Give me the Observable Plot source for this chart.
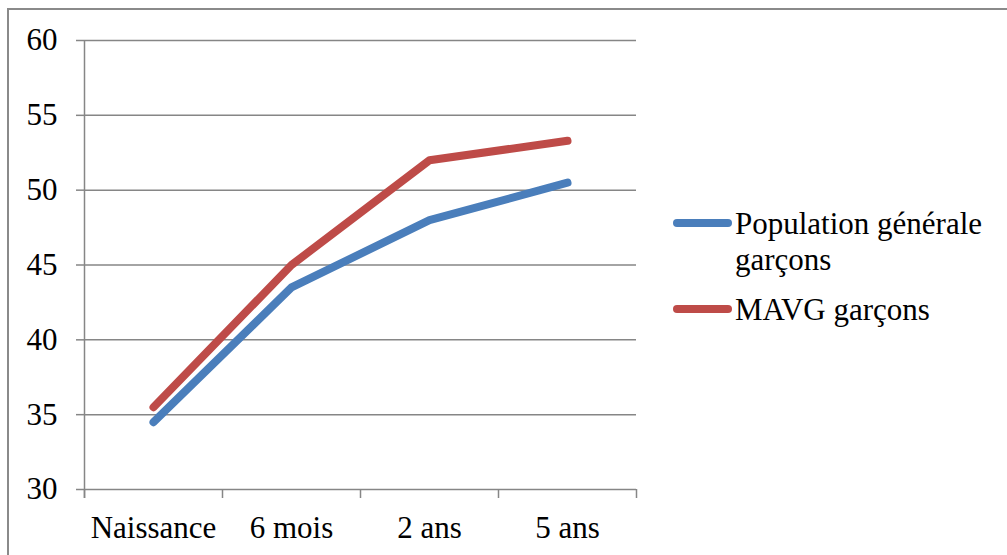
<!DOCTYPE html>
<html>
<head>
<meta charset="utf-8">
<script src="https://cdn.jsdelivr.net/npm/d3@7"></script>
<script src="https://cdn.jsdelivr.net/npm/@observablehq/plot@0.6"></script>
<style>
  html, body { margin: 0; padding: 0; background: #fff; }
  #wrap { position: relative; width: 1007px; height: 555px; font-family: 'Liberation Serif'; }
  html body #wrap, html body #wrap * { font-family: 'Liberation Serif', 'Times New Roman', Times, serif !important; }
  #border { position: absolute; left: 7px; top: 8px; width: 1000px; height: 547px; border-left: 2px solid #8a8a8a; border-top: 2px solid #8a8a8a; box-sizing: border-box; }
  #chart { position: absolute; left: 0; top: 0; }
  .swatch { position: absolute; left: 673px; width: 59px; height: 8px; border-radius: 4px; }
  .ltext { position: absolute; left: 735px; font-size: 31px; line-height: 36px; color: #000; white-space: nowrap; }
</style>
</head>
<body>
<div id="wrap">
  <div id="border"></div>
  <div id="chart"></div>
  <div class="swatch" id="sw0" style="top:219px"></div>
  <div class="ltext" style="top:206px">Population générale<br>garçons</div>
  <div class="swatch" id="sw1" style="top:305px"></div>
  <div class="ltext" style="top:292px">MAVG garçons</div>
</div>
<script>
const categories = ["Naissance", "6 mois", "2 ans", "5 ans"];
const seriesNames = ["Population générale garçons", "MAVG garçons"];
const populationGenerale = [34.5, 43.5, 48, 50.5];
const mavg = [35.5, 45, 52, 53.3];
const yTicks = [30, 35, 40, 45, 50, 55, 60];
const colors = ["#4A7EBB", "#BE4B48"];

const rows = [];
[populationGenerale, mavg].forEach((vals, s) => {
  vals.forEach((v, i) => rows.push({cat: categories[i], value: v, series: seriesNames[s]}));
});

const W = 1007, H = 555;
const mL = 84, mR = 371, mT = 40, mB = 66;
const bw = (W - mL - mR) / categories.length;
const gray = "#868686";

const chart = Plot.plot({
  width: W,
  height: H,
  marginLeft: mL,
  marginRight: mR,
  marginTop: mT,
  marginBottom: mB,
  style: {fontFamily: "Liberation Serif"},
  x: {type: "band", domain: categories, padding: 0},
  y: {domain: [yTicks[0], yTicks[yTicks.length - 1]]},
  color: {domain: seriesNames, range: colors},
  marks: [
    Plot.ruleY(yTicks, {stroke: gray, strokeWidth: 1.5}),
    Plot.ruleX([categories[0]], {dx: -bw / 2, y1: yTicks[0], y2: yTicks[yTicks.length - 1], insetTop: 9, stroke: gray, strokeWidth: 1.5}),
    Plot.ruleX(categories, {dx: -bw / 2, y1: yTicks[0], y2: yTicks[0], insetTop: 9, stroke: gray, strokeWidth: 1.5}),
    Plot.ruleX([categories[categories.length - 1]], {dx: bw / 2, y1: yTicks[0], y2: yTicks[0], insetTop: 9, stroke: gray, strokeWidth: 1.5}),
    Plot.axisY({ticks: yTicks, tickSize: 8, tickPadding: 19, fontSize: 31, stroke: gray, strokeWidth: 1.5, fill: "#000", label: null}),
    Plot.axisX({tickSize: 0, tickPadding: 26, fontSize: 31, fill: "#000", label: null}),
    Plot.line(rows, {x: "cat", y: "value", z: "series", stroke: "series", strokeWidth: 8, strokeLinecap: "round", strokeLinejoin: "round"})
  ]
});
document.getElementById("chart").appendChild(chart);

// Legend swatch colours come from the same colour range as the lines
seriesNames.forEach((name, i) => {
  document.getElementById("sw" + i).style.background = colors[i];
});

// Force the serif face on every text-bearing element
document.querySelectorAll("#wrap, #wrap .ltext, #wrap svg, #wrap svg g, #wrap svg text").forEach(el => {
  el.style.setProperty("font-family", "'Liberation Serif', 'Times New Roman', serif", "important");
});
</script>
</body>
</html>
